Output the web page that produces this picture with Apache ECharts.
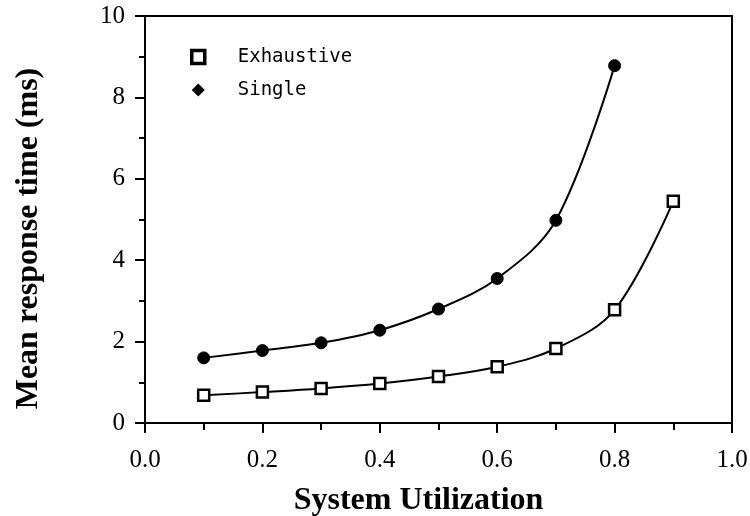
<!DOCTYPE html>
<html>
<head>
<meta charset="utf-8">
<script src="https://cdn.jsdelivr.net/npm/echarts@6/dist/echarts.min.js"></script>
<style>
  html, body { margin: 0; padding: 0; background: #fff; }
  #chart { width: 750px; height: 516px; }
</style>
</head>
<body>
<div id="chart"></div>
<script>
// utilization values and mean response times (ms)
const utilExhaustive = [0.1, 0.2, 0.3, 0.4, 0.5, 0.6, 0.7, 0.8, 0.9];
const exhaustive = [0.68, 0.76, 0.85, 0.97, 1.14, 1.38, 1.83, 2.78, 5.45];
const utilSingle = [0.1, 0.2, 0.3, 0.4, 0.5, 0.6, 0.7, 0.8];
const single = [1.6, 1.78, 1.97, 2.28, 2.8, 3.55, 4.98, 8.78];

const pairs = (xs, ys) => xs.map((x, i) => [x, ys[i]]);

const chart = echarts.init(document.getElementById("chart"));
chart.setOption({
  animation: false,
  grid: {
    left: 145,
    right: 18,
    top: 16,
    bottom: 93,
    outerBoundsMode: "none",
    containLabel: false,
    show: true,
    borderColor: "#000",
    borderWidth: 2,
  },
  legend: {
    orient: "vertical",
    left: 185,
    top: 42,
    itemGap: 13,
    itemWidth: 13,
    itemHeight: 13,
    textStyle: {
      fontFamily: "DejaVu Sans Mono",
      fontSize: 19,
      lineHeight: 20,
      color: "#000",
      padding: [0, 0, 0, 28],
    },
    data: [
      { name: "Exhaustive", icon: "rect", itemStyle: { color: "#fff", borderColor: "#000", borderWidth: 3.5 } },
      { name: "Single", icon: "diamond", itemStyle: { color: "#000" } },
    ],
  },
  xAxis: {
    type: "value",
    min: 0,
    max: 1,
    interval: 0.2,
    name: "System Utilization",
    nameLocation: "middle",
    nameGap: 62,
    nameTextStyle: {
      fontFamily: "Liberation Serif",
      fontWeight: "bold",
      fontSize: 32,
      color: "#000",
      padding: [0, 40, 0, 0],
    },
    axisLine: { lineStyle: { color: "#000", width: 2 } },
    axisTick: { show: true, length: 10, lineStyle: { color: "#000", width: 2 } },
    minorTick: { show: true, splitNumber: 2, length: 7, lineStyle: { color: "#000", width: 2 } },
    splitLine: { show: false },
    axisLabel: {
      fontFamily: "Liberation Serif",
      fontSize: 25,
      color: "#000",
      margin: 25,
      formatter: (v) => v.toFixed(1),
    },
  },
  yAxis: {
    type: "value",
    min: 0,
    max: 10,
    interval: 2,
    name: "Mean response time (ms)",
    nameLocation: "middle",
    nameGap: 100,
    nameTextStyle: {
      fontFamily: "Liberation Serif",
      fontWeight: "bold",
      fontSize: 32,
      color: "#000",
      padding: [0, 38, 0, 0],
    },
    axisLine: { show: true, lineStyle: { color: "#000", width: 2 } },
    axisTick: { show: true, length: 10, lineStyle: { color: "#000", width: 2 } },
    minorTick: { show: true, splitNumber: 2, length: 6, lineStyle: { color: "#000", width: 2 } },
    splitLine: { show: false },
    axisLabel: { fontFamily: "Liberation Serif", fontSize: 25, color: "#000", margin: 20 },
  },
  series: [
    {
      name: "Exhaustive",
      type: "line",
      data: pairs(utilExhaustive, exhaustive),
      smooth: 0.35,
      symbol: "rect",
      symbolSize: 11,
      lineStyle: { color: "#000", width: 2 },
      itemStyle: { color: "#fff", borderColor: "#000", borderWidth: 2.5 },
    },
    {
      name: "Single",
      type: "line",
      data: pairs(utilSingle, single),
      smooth: 0.35,
      symbol: "circle",
      symbolSize: 12,
      lineStyle: { color: "#000", width: 2 },
      itemStyle: { color: "#000", borderColor: "#000" },
    },
  ],
});
</script>
</body>
</html>
